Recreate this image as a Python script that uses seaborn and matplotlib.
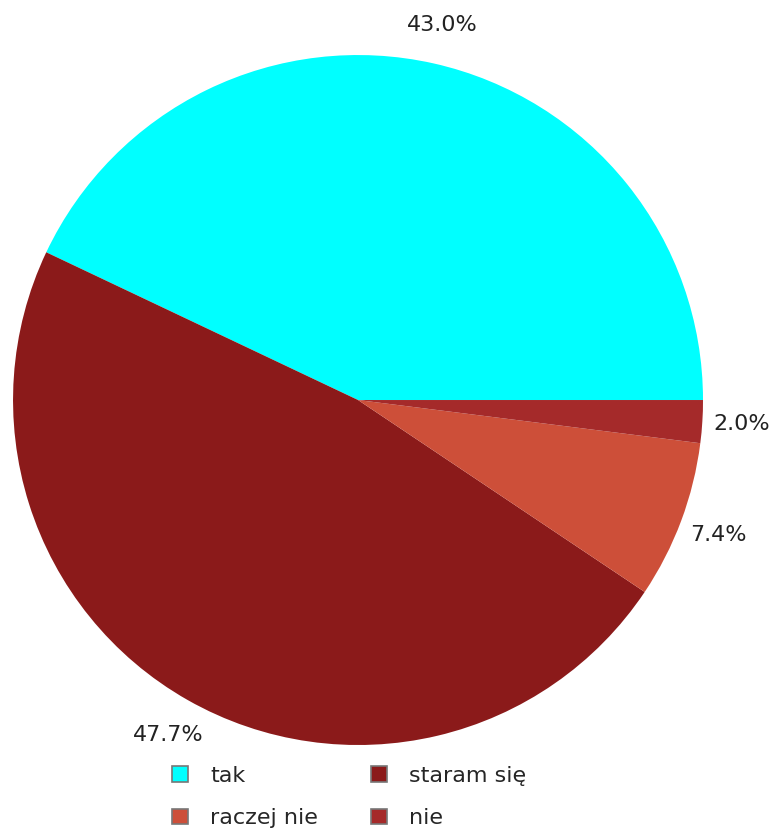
import matplotlib
matplotlib.use('Agg')
import matplotlib.pyplot as plt
import matplotlib.patches as mpatches
import seaborn as sns

# data
labels = ['tak', 'staram się', 'raczej nie', 'nie']
shares = [43.0, 47.7, 7.4, 2.0]
colors = ['#00FFFF', '#8B1A1A', '#CD4F39', '#A52A2A']

sns.set_theme(style='white')
plt.rcParams['font.family'] = ['DejaVu Sans']

fig = plt.figure(figsize=(7.8, 8.3), dpi=100)
ax = fig.add_axes([0.0167, 0.1024, 0.8846, 0.8313])

wedges, texts, autotexts = ax.pie(shares, colors=colors, startangle=0, counterclock=True,
                                  autopct='%.1f%%', pctdistance=1.115,
                                  textprops={'fontsize': 16, 'color': '#222222'},
                                  wedgeprops={'linewidth': 0})
ax.set_xlim(-1, 1)
ax.set_ylim(-1, 1)
ax.set_aspect('equal')
ax.axis('off')

# row-major legend order: tak, staram się / raczej nie, nie
order = [0, 2, 1, 3]
handles = [mpatches.Patch(facecolor=colors[i], edgecolor='#777777', linewidth=1.2, label=labels[i])
           for i in order]
fig.legend(handles=handles, ncol=2, loc='lower center', bbox_to_anchor=(0.448, -0.022),
           frameon=False, fontsize=16, handlelength=0.7, handleheight=0.7,
           handletextpad=1.0, columnspacing=2.4, labelspacing=1.0)

fig.savefig('out.png', dpi=100, facecolor='white')
